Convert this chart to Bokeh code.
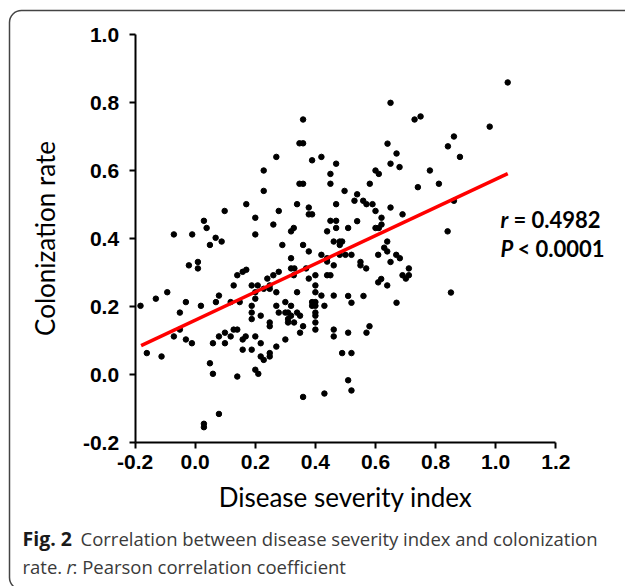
from bokeh.plotting import figure
from bokeh.models import (Range1d, FixedTicker, NumeralTickFormatter, Label,
                          BoxAnnotation, LinearAxis)
from bokeh.embed import file_html
from bokeh.resources import INLINE

# ---- data ----
severity = [
    0.359, 0.347, 0.359, 0.270, 0.389, 0.420, 0.469, 0.228, 0.450, 0.347,
    0.359, 0.450, 0.228, 0.497, 0.170, 0.339, 0.469, 0.378, 0.098, 0.278,
    0.378, 0.389, 0.200, 0.029, 0.450, 0.469, 0.260, 0.038, 0.469, 0.328,
    0.319, 0.439, -0.071, -0.010, 0.200, 0.068, 0.088, 0.049, 0.290, 0.359,
    0.378, 0.461, 0.481, 0.489, 0.481, 0.420, 0.481, 0.500, 0.520, 0.319,
    0.439, 0.439, -0.021, 0.009, 0.009, 0.461, 0.319, 0.330, 0.369, 0.158,
    0.170, 0.140, 0.328, 0.439, 0.450, 0.400, 0.260, 0.240, 0.378, 0.278,
    0.188, 0.208, 0.128, 0.248, 0.248, 0.400, 0.228, 0.200, -0.093, 0.270,
    0.339, 0.400, 0.420, 0.461, 0.079, -0.131, 0.200, -0.031, 0.069, 0.118,
    0.148, 0.300, 0.389, 0.400, -0.182, 0.019, 0.270, 0.319, 0.389, 0.400,
    0.430, 0.188, -0.051, 0.188, 0.278, 0.300, 0.309, 0.339, 0.349, 0.400,
    0.218, 0.319, 0.309, 0.188, 0.400, 0.309, 0.329, 0.248, 0.248, 0.400,
    0.359, -0.051, 0.128, 0.140, 0.400, 0.461, 0.099, 0.349, -0.071, 0.079,
    0.118, 0.168, 0.200, 0.461, -0.031, 0.158, 0.300, -0.011, 0.059, 0.099,
    0.218, 0.270, 0.158, 0.188, -0.161, 0.489, 0.248, 0.248, 0.218, 0.228,
    -0.112, 0.049, 0.059, 0.200, 0.210, 0.140, 0.359, 0.430, 0.079, 0.029,
    0.029, 0.520, 0.639, 0.629, 0.639, 0.609, 0.669, 0.681, 0.650, 0.550,
    0.550, 0.569, 0.711, 0.690, 0.701, 0.711, 0.619, 0.609, 0.639, 0.840,
    0.851, 0.509, 0.520, 0.560, 0.670, 0.509, 0.570, 0.580, 0.509, 0.520,
    1.040, 0.650, 0.730, 0.750, 0.980, 0.861, 0.841, 0.640, 0.670, 0.881,
    0.650, 0.680, 0.600, 0.611, 0.781, 0.581, 0.811, 0.741, 0.539, 0.530,
    0.559, 0.570, 0.590, 0.861, 0.600, 0.650, 0.690, 0.620, 0.539, 0.620,
    0.611, 0.600, 0.509,
]
colonization = [
    0.750, 0.680, 0.680, 0.640, 0.630, 0.640, 0.620, 0.600, 0.590, 0.561,
    0.561, 0.561, 0.540, 0.540, 0.501, 0.501, 0.501, 0.491, 0.481, 0.481,
    0.471, 0.471, 0.461, 0.452, 0.452, 0.452, 0.441, 0.431, 0.431, 0.431,
    0.421, 0.421, 0.412, 0.412, 0.412, 0.402, 0.391, 0.381, 0.381, 0.381,
    0.362, 0.391, 0.391, 0.391, 0.381, 0.352, 0.352, 0.352, 0.352, 0.342,
    0.342, 0.332, 0.321, 0.331, 0.312, 0.321, 0.312, 0.312, 0.312, 0.302,
    0.308, 0.292, 0.292, 0.292, 0.292, 0.292, 0.292, 0.282, 0.282, 0.302,
    0.262, 0.262, 0.262, 0.262, 0.252, 0.262, 0.252, 0.242, 0.242, 0.242,
    0.242, 0.242, 0.232, 0.232, 0.232, 0.223, 0.223, 0.213, 0.213, 0.213,
    0.213, 0.213, 0.213, 0.213, 0.202, 0.202, 0.202, 0.202, 0.202, 0.202,
    0.202, 0.202, 0.182, 0.182, 0.182, 0.182, 0.182, 0.182, 0.173, 0.182,
    0.173, 0.173, 0.163, 0.163, 0.173, 0.153, 0.153, 0.153, 0.142, 0.153,
    0.142, 0.132, 0.132, 0.132, 0.132, 0.132, 0.123, 0.123, 0.112, 0.112,
    0.112, 0.112, 0.112, 0.112, 0.103, 0.103, 0.103, 0.092, 0.092, 0.092,
    0.092, 0.082, 0.073, 0.073, 0.063, 0.063, 0.063, 0.053, 0.053, 0.043,
    0.053, 0.033, 0.002, 0.014, 0.002, -0.006, -0.066, -0.056, -0.116, -0.145,
    -0.155, 0.063, 0.391, 0.373, 0.362, 0.352, 0.352, 0.342, 0.331, 0.331,
    0.321, 0.312, 0.312, 0.292, 0.282, 0.292, 0.281, 0.271, 0.262, 0.421,
    0.241, 0.231, 0.211, 0.231, 0.211, 0.123, 0.123, 0.142, -0.017, -0.047,
    0.859, 0.799, 0.750, 0.759, 0.729, 0.700, 0.671, 0.679, 0.650, 0.640,
    0.620, 0.610, 0.600, 0.590, 0.600, 0.561, 0.561, 0.551, 0.530, 0.511,
    0.511, 0.501, 0.501, 0.511, 0.481, 0.491, 0.471, 0.461, 0.451, 0.441,
    0.431, 0.431, 0.431,
]
fit_x = [-0.18, 1.04]
fit_y = [0.085, 0.591]
x_ticks = [-0.2, 0.0, 0.2, 0.4, 0.6, 0.8, 1.0, 1.2]
y_ticks = [-0.2, 0.0, 0.2, 0.4, 0.6, 0.8, 1.0]
x_title = "Disease severity index"
y_title = "Colonization rate"
r_symbol = "r"
r_value = "= 0.4982"
p_symbol = "P"
p_value = "< 0.0001"
caption_bold = "Fig. 2"
caption_line1 = "Correlation between disease severity index and colonization"
caption_line2a = "rate."
caption_line2b = "r"
caption_line2c = ": Pearson correlation coefficient"


# pixel -> data helpers (layout only)
def px2x(px):
    return (px - 194.7) / 300.5


def py2y(py):
    return (374.0 - py) / 340.0


W, H = 625, 586
p = figure(width=W, height=H, output_backend="svg", toolbar_location=None,
           x_axis_type=None, y_axis_type=None,
           x_range=Range1d(px2x(0), px2x(W)), y_range=Range1d(py2y(H), py2y(0)),
           min_border=0)
p.grid.visible = False
p.outline_line_color = None
p.background_fill_color = "white"
p.border_fill_color = "white"

p.scatter(severity, colonization, size=5.5, color="black")
p.line(fit_x, fit_y, line_color="#ff0000", line_width=3.5)

xaxis = LinearAxis(fixed_location=y_ticks[0], bounds=(x_ticks[0], x_ticks[-1]),
                   ticker=FixedTicker(ticks=x_ticks), axis_label=x_title)
yaxis = LinearAxis(fixed_location=x_ticks[0], bounds=(y_ticks[0], y_ticks[-1]),
                   ticker=FixedTicker(ticks=y_ticks), axis_label=y_title)
for ax in (xaxis, yaxis):
    ax.axis_line_width = 2
    ax.axis_line_color = "black"
    ax.major_tick_line_width = 2
    ax.major_tick_line_color = "black"
    ax.major_tick_out = 6
    ax.major_tick_in = 0
    ax.minor_tick_out = 0
    ax.minor_tick_in = 0
    ax.formatter = NumeralTickFormatter(format="0.0")
    ax.major_label_text_font = "Liberation Sans"
    ax.major_label_text_font_style = "bold"
    ax.major_label_text_font_size = "21px"
    ax.major_label_text_color = "black"
    ax.axis_label_text_font = "Lato"
    ax.axis_label_text_font_style = "normal"
    ax.axis_label_text_font_size = "26px"
    ax.axis_label_text_color = "black"
xaxis.major_label_standoff = 6
yaxis.major_label_standoff = 10
xaxis.axis_label_standoff = 9
yaxis.axis_label_standoff = 19
p.add_layout(xaxis, "below")
p.add_layout(yaxis, "left")

stat_font = dict(text_font="Lato", text_font_size="22px", text_color="black",
                 text_baseline="alphabetic")
p.add_layout(Label(x=px2x(500), y=py2y(219), text=r_symbol,
                   text_font_style="bold italic", **stat_font))
p.add_layout(Label(x=px2x(513), y=py2y(219), text=r_value,
                   text_font_style="bold", **stat_font))
p.add_layout(Label(x=px2x(500), y=py2y(248), text=p_symbol,
                   text_font_style="bold italic", **stat_font))
p.add_layout(Label(x=px2x(517), y=py2y(248), text=p_value,
                   text_font_style="bold", **stat_font))

cap_font = dict(text_font="Open Sans", text_font_size="18.5px",
                text_baseline="alphabetic")
p.add_layout(Label(x=px2x(22), y=py2y(538), text=caption_bold,
                   text_font_style="bold", text_color="#1a1a1a",
                   text_font="Open Sans", text_font_size="19.5px",
                   text_baseline="alphabetic"))
p.add_layout(Label(x=px2x(80), y=py2y(538), text=caption_line1,
                   text_color="#3a3a3a", **cap_font))
p.add_layout(Label(x=px2x(22), y=py2y(566), text=caption_line2a,
                   text_color="#3a3a3a", **cap_font))
p.add_layout(Label(x=px2x(66), y=py2y(566), text=caption_line2b,
                   text_font_style="italic", text_color="#3a3a3a", **cap_font))
p.add_layout(Label(x=px2x(72), y=py2y(566), text=caption_line2c,
                   text_color="#3a3a3a", **cap_font))

frame_box = BoxAnnotation(left=px2x(9), right=px2x(640), top=py2y(10),
                          bottom=py2y(589), fill_alpha=0, line_color="#444444",
                          line_alpha=1.0, line_width=1.5, border_radius=12)
p.add_layout(frame_box)

open("out.html", "w").write(file_html(p, INLINE))
